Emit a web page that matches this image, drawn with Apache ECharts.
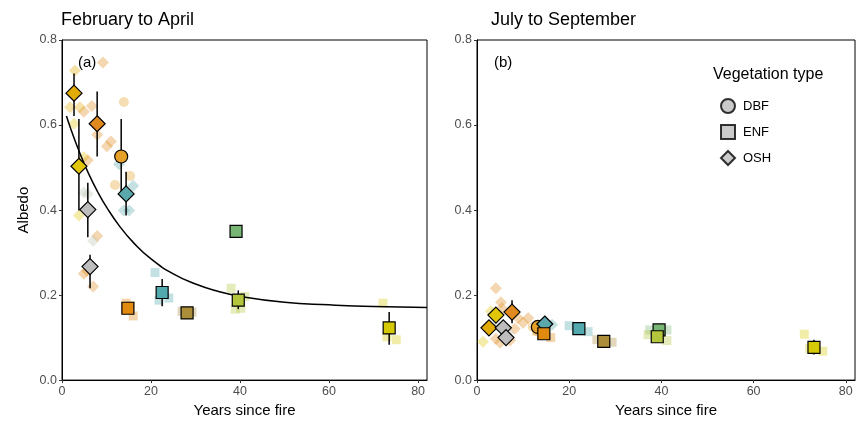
<!DOCTYPE html>
<html><head><meta charset="utf-8">
<script src="https://cdn.jsdelivr.net/npm/echarts/dist/echarts.min.js"></script>
<style>html,body{margin:0;padding:0;background:#fff}#c{width:862px;height:423px}</style>
</head><body><div id="c"></div>
<script>
// ---- Data ----
const sites = ['s1','s2','s3','s4','s5','s6','s7','s8','s9','s10','s11','s12','s13'];
const siteType = ['OSH','OSH','DBF','OSH','OSH','OSH','OSH','ENF','ENF','ENF','ENF','ENF','ENF'];

// February to April: site means and error bars
const febX  = [2.7, 7.9, 13.3, 3.8, 5.8, 6.3, 14.4, 22.5, 14.8, 28.1, 39.1, 39.6, 73.5];
const febY  = [0.675, 0.603, 0.526, 0.503, 0.401, 0.267, 0.438, 0.206, 0.169, 0.158, 0.350, 0.188, 0.123];
const febLo = [0.621, 0.526, 0.438, 0.399, 0.336, 0.216, 0.387, 0.174, 0.160, 0.152, 0.350, 0.167, 0.083];
const febHi = [0.721, 0.679, 0.614, 0.614, 0.464, 0.295, 0.490, 0.238, 0.178, 0.164, 0.350, 0.211, 0.160];

// July to September: site means and error bars
const julX  = [2.6, 7.6, 13.2, 4.1, 5.7, 6.3, 14.7, 22.1, 14.5, 27.5, 39.5, 39.1, 73.1];
const julY  = [0.123, 0.160, 0.125, 0.153, 0.123, 0.100, 0.132, 0.121, 0.109, 0.091, 0.118, 0.102, 0.077];
const julLo = [0.105, 0.134, 0.118, 0.138, 0.115, 0.092, 0.125, 0.114, 0.100, 0.087, 0.112, 0.096, 0.060];
const julHi = [0.140, 0.188, 0.132, 0.168, 0.131, 0.108, 0.139, 0.128, 0.118, 0.095, 0.124, 0.108, 0.095];

// Individual (faint) observations
const febRawX = [2.9, 9.2, 1.8, 4.0, 4.9, 6.7, 2.7, 13.9, 7.9, 10.1, 11.0, 4.9, 5.8, 12.8, 15.3, 11.9, 16.0, 4.9, 5.8, 3.8, 13.9, 15.1, 7.9, 7.0, 4.9, 5.6, 7.0, 20.9, 21.8, 24.0, 14.4, 15.3, 16.0, 27.0, 29.2, 38.0, 41.1, 38.9, 40.2, 72.1, 73.0, 75.1];
const febRawY = [0.728, 0.747, 0.642, 0.642, 0.631, 0.645, 0.603, 0.654, 0.577, 0.550, 0.561, 0.524, 0.517, 0.508, 0.480, 0.459, 0.457, 0.441, 0.438, 0.387, 0.399, 0.399, 0.339, 0.327, 0.250, 0.257, 0.220, 0.253, 0.188, 0.193, 0.181, 0.175, 0.151, 0.162, 0.160, 0.216, 0.197, 0.167, 0.169, 0.181, 0.102, 0.095];
const febRawSite = ['s1','s2','s1','s1','s2','s2','s4','s3','s2','s2','s2','s4','s2','s7','s3','s3','s7','s5','s5','s4','s7','s7','s2','s5','s2','s2','s2','s8','s8','s8','s9','s9','s9','s10','s10','s12','s12','s12','s12','s13','s13','s13'];

const julRawX = [4.1, 5.2, 5.4, 3.0, 8.9, 10.0, 11.1, 8.2, 1.3, 4.1, 5.0, 7.2, 4.5, 6.8, 12.1, 13.0, 13.0, 16.0, 16.3, 20.0, 24.1, 26.0, 29.3, 37.5, 41.2, 37.1, 41.2, 71.0, 72.2, 75.0];
const julRawY = [0.216, 0.183, 0.169, 0.162, 0.146, 0.135, 0.146, 0.121, 0.090, 0.097, 0.088, 0.093, 0.128, 0.112, 0.125, 0.116, 0.115, 0.100, 0.130, 0.128, 0.114, 0.095, 0.089, 0.118, 0.118, 0.107, 0.093, 0.108, 0.074, 0.068];
const julRawSite = ['s2','s2','s2','s4','s2','s2','s2','s2','s4','s2','s2','s2','s5','s6','s3','s3','s9','s9','s7','s8','s8','s10','s10','s11','s11','s12','s12','s13','s13','s13'];

// Fitted curve (February to April)
const fitX = [1, 2, 4, 6, 8, 10, 13, 16, 20, 25, 30, 35, 40, 50, 60, 70, 82];
const fitY = [0.621, 0.590, 0.534, 0.485, 0.443, 0.407, 0.361, 0.324, 0.285, 0.250, 0.226, 0.209, 0.197, 0.183, 0.177, 0.173, 0.171];

const xTicks = [0, 20, 40, 60, 80];
const vegTypes = ['DBF', 'ENF', 'OSH'];

// ---- Styles ----
const siteColor = {
  s1:'#E2AC08', s2:'#E0891E', s3:'#E4A027', s4:'#E2C60A', s5:'#BDBDBD', s6:'#BDBDBD',
  s7:'#5AA8AC', s8:'#52AAAE', s9:'#E08A10', s10:'#AB8D3A', s11:'#78B676', s12:'#B4C63B', s13:'#D6CA08'
};
const rawColor = Object.assign({}, siteColor, {s5:'#B9C6B3', s6:'#BDBDBD'});
const shape = {DBF:'circle', ENF:'rect', OSH:'diamond'};
const mainSize = {DBF:13, ENF:12, OSH:16};
const rawSize = {DBF:10, ENF:9, OSH:12};
const FONT = 'Liberation Sans, Arial, sans-serif';

function typeOf(site){ return siteType[sites.indexOf(site)]; }

function rawSeries(xs, ys, ss, idx){
  return {
    type:'scatter', xAxisIndex:idx, yAxisIndex:idx, z:1, silent:true,
    data: xs.map((x,i)=>{ const t = typeOf(ss[i]); return {
      value:[x, ys[i]], symbol:shape[t], symbolSize:rawSize[t],
      itemStyle:{color:rawColor[ss[i]], opacity:0.35}
    };})
  };
}
function errSeries(xs, lo, hi, idx){
  return {
    type:'custom', xAxisIndex:idx, yAxisIndex:idx, z:3, silent:true,
    encode:{x:0, y:[1,2]},
    data: xs.map((x,i)=>[x, lo[i], hi[i]]),
    renderItem:(params, api)=>{
      const p1 = api.coord([api.value(0), api.value(1)]);
      const p2 = api.coord([api.value(0), api.value(2)]);
      return {type:'line', shape:{x1:p1[0], y1:p1[1], x2:p2[0], y2:p2[1]},
              style:{stroke:'#000', lineWidth:1.5}};
    }
  };
}
function mainSeries(xs, ys, idx){
  return {
    type:'scatter', xAxisIndex:idx, yAxisIndex:idx, z:4, silent:true,
    data: xs.map((x,i)=>{ const t = siteType[i]; return {
      value:[x, ys[i]], symbol:shape[t], symbolSize:mainSize[t],
      itemStyle:{color:siteColor[sites[i]], borderColor:'#000', borderWidth:1.2, opacity:1}
    };})
  };
}

function xAxis(idx){
  return {
    type:'value', gridIndex:idx, min:0, max:82,
    name:'Years since fire', nameLocation:'middle', nameGap:22,
    nameTextStyle:{fontFamily:FONT, fontSize:15, color:'#000'},
    axisLine:{show:true, lineStyle:{color:'#000', width:1}},
    axisTick:{show:true, length:3, customValues:xTicks, lineStyle:{color:'#333'}},
    axisLabel:{customValues:xTicks, margin:5, fontFamily:FONT, fontSize:12.5, color:'#4D4D4D'},
    splitLine:{show:false}
  };
}
function yAxis(idx){
  return {
    type:'value', gridIndex:idx, min:0, max:0.8, interval:0.2,
    name: idx===0 ? 'Albedo' : '', nameLocation:'middle', nameGap:31,
    nameTextStyle:{fontFamily:FONT, fontSize:15, color:'#000'},
    axisLine:{show:true, lineStyle:{color:'#000', width:1}},
    axisTick:{show:true, length:3, lineStyle:{color:'#333'}},
    axisLabel:{margin:5, fontFamily:FONT, fontSize:12.5, color:'#4D4D4D', formatter:v=>v.toFixed(1)},
    splitLine:{show:false}
  };
}

const legendSeries = vegTypes.map(t=>({
  type:'scatter', name:t, data:[], symbol:shape[t], symbolSize:12,
  itemStyle:{color:'#BDBDBD', borderColor:'#000', borderWidth:1.2}
}));

const chart = echarts.init(document.getElementById('c'), null, {renderer:'canvas'});
chart.setOption({
  animation:false,
  backgroundColor:'#fff',
  title:[
    {text:'February to April', left:61, top:11, padding:0, textStyle:{fontFamily:FONT, fontSize:18, fontWeight:'normal', color:'#000'}},
    {text:'July to September', left:491, top:11, padding:0, textStyle:{fontFamily:FONT, fontSize:18, fontWeight:'normal', color:'#000'}},
    {text:'(a)', left:78, top:55, padding:0, textStyle:{fontFamily:FONT, fontSize:15, fontWeight:'normal', color:'#000'}},
    {text:'(b)', left:494, top:55, padding:0, textStyle:{fontFamily:FONT, fontSize:15, fontWeight:'normal', color:'#000'}},
    {text:'Vegetation type', left:713, top:67, padding:0, textStyle:{fontFamily:FONT, fontSize:16, fontWeight:'normal', color:'#000'}}
  ],
  legend:{
    orient:'vertical', left:720, top:98, padding:0, itemGap:10, itemWidth:14, itemHeight:14,
    selectedMode:false,
    data: vegTypes.map(t=>({name:t, icon:shape[t]})),
    textStyle:{fontFamily:FONT, fontSize:13, color:'#000', padding:[0,0,0,3]}
  },
  grid:[
    {left:62, right:435, top:40, bottom:38, show:true, borderColor:'#000', borderWidth:1, backgroundColor:'transparent'},
    {left:477, right:7, top:40, bottom:38, show:true, borderColor:'#000', borderWidth:1, backgroundColor:'transparent'}
  ],
  xAxis:[xAxis(0), xAxis(1)],
  yAxis:[yAxis(0), yAxis(1)],
  series:[
    rawSeries(febRawX, febRawY, febRawSite, 0),
    rawSeries(julRawX, julRawY, julRawSite, 1),
    {type:'line', xAxisIndex:0, yAxisIndex:0, z:2, silent:true, smooth:true, symbol:'none',
     lineStyle:{color:'#000', width:1.5}, data: fitX.map((x,i)=>[x, fitY[i]])},
    errSeries(febX, febLo, febHi, 0),
    errSeries(julX, julLo, julHi, 1),
    mainSeries(febX, febY, 0),
    mainSeries(julX, julY, 1)
  ].concat(legendSeries)
});
</script></body></html>
